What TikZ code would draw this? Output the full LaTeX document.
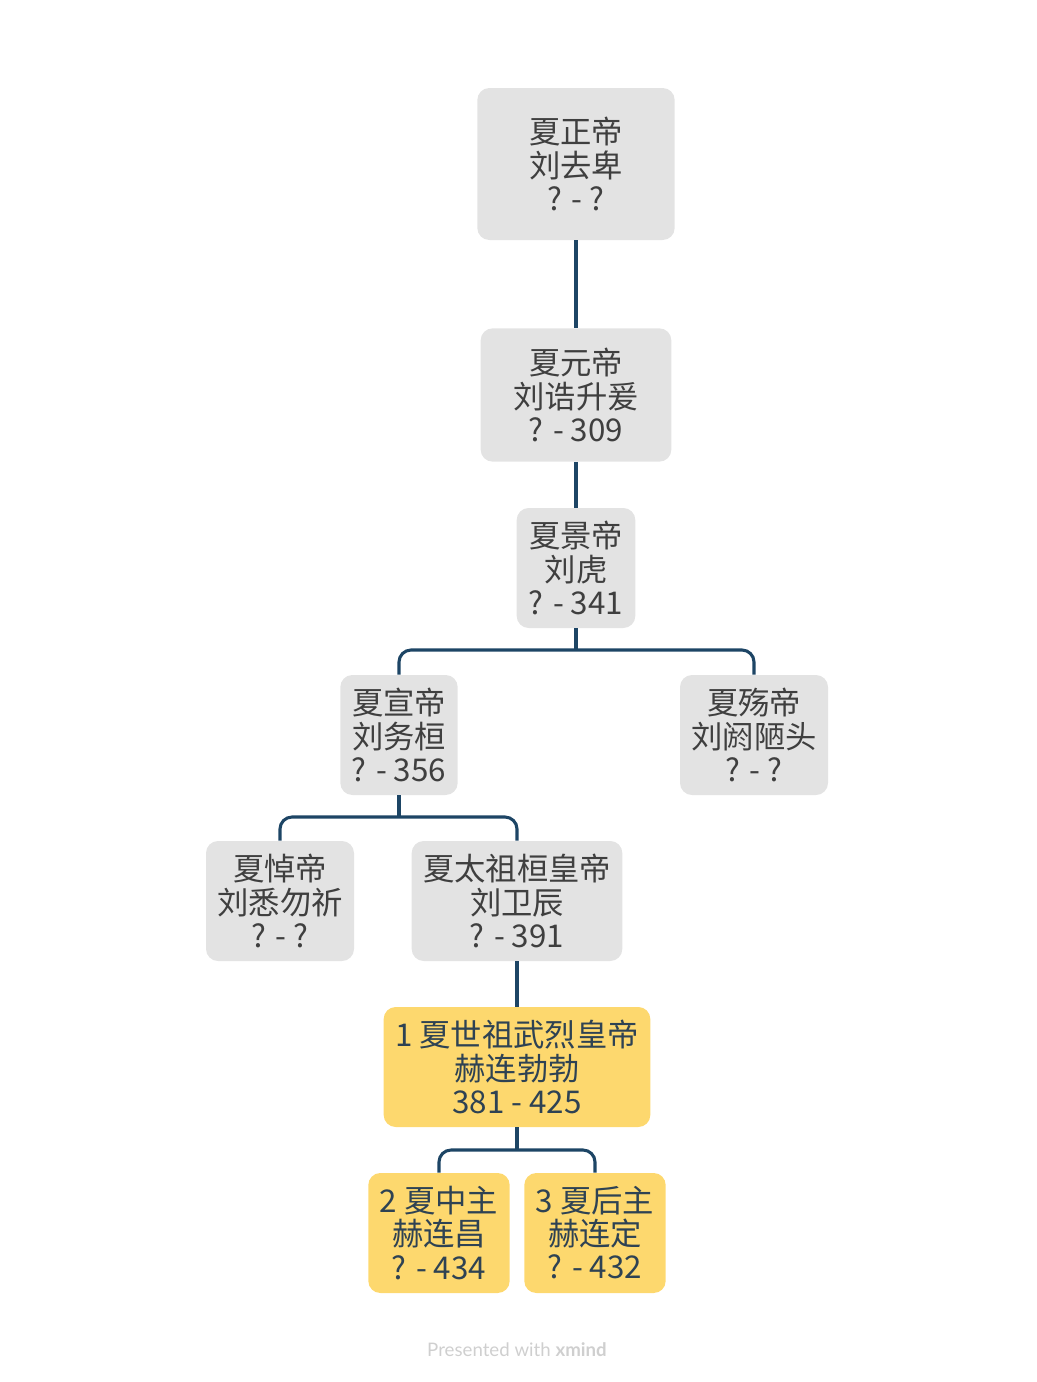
\documentclass[tikz,border=0pt]{standalone}
\usepackage{fontspec}
\newfontfamily\cjk{Noto Sans CJK SC}
\newfontfamily\footfont{Lato}
\usepackage{tikz}
\usetikzlibrary{positioning,calc}

\definecolor{boxgray}{HTML}{E3E3E3}
\definecolor{boxgold}{HTML}{FDD86E}
\definecolor{txtgray}{HTML}{3F3F3F}
\definecolor{txtblue}{HTML}{2E4253}
\definecolor{linknavy}{HTML}{1D4565}
\definecolor{footgray}{HTML}{CFCFCF}

\begin{document}
\begin{tikzpicture}[
    x=0.75pt, y=-0.75pt,
    ruler/.style={rectangle, rounded corners=9pt, fill=boxgray, text=txtgray, align=center, inner sep=2pt,
        font=\cjk\fontsize{23.5}{24.8}\selectfont, minimum height=90pt},
    xia/.style={ruler, fill=boxgold, text=txtblue},
    link/.style={draw=linknavy, line width=2.3pt},
    branch/.style={link, rounded corners=9pt}
]
\useasboundingbox (0,0) rectangle (1036,1382);

% Liu ancestors
\node at (576,164) [ruler, minimum width=148pt, minimum height=114pt] (zheng) {夏正帝\\刘去卑\\? - ?};
\node at (576,395) [ruler, minimum width=143pt, minimum height=100pt] (yuan) {夏元帝\\刘诰升爰\\? - 309};
\node at (576,568) [ruler, minimum width=89pt] (jing) {夏景帝\\刘虎\\? - 341};
\node at (399,735) [ruler, minimum width=88pt] (xuan) {夏宣帝\\刘务桓\\? - 356};
\node at (754,735) [ruler, minimum width=111pt] (shang) {夏殇帝\\刘阏陋头\\? - ?};
\node at (280,901) [ruler, minimum width=111pt] (dao) {夏悼帝\\刘悉勿祈\\? - ?};
\node at (517,901) [ruler, minimum width=158pt] (taizu) {夏太祖桓皇帝\\刘卫辰\\? - 391};

% Xia rulers
\node at (517,1067) [xia, minimum width=200pt] (shizu) {1 夏世祖武烈皇帝\\赫连勃勃\\381 - 425};
\node at (439,1233) [xia, minimum width=106pt] (zhong) {2 夏中主\\赫连昌\\? - 434};
\node at (595,1233) [xia, minimum width=106pt] (hou) {3 夏后主\\赫连定\\? - 432};

% Bus points
\coordinate (busjing) at (576,650);
\coordinate (busxuan) at (399,817);
\coordinate (busshizu) at (517,1150);

% Connectors
\draw [link] (zheng) -- (yuan);
\draw [link] (yuan) -- (jing);
\draw [link] (jing.south) -- (busjing);
\draw [branch] (xuan.north) |- (busjing) -| (shang.north);
\draw [link] (xuan.south) -- (busxuan);
\draw [branch] (dao.north) |- (busxuan) -| (taizu.north);
\draw [link] (taizu) -- (shizu);
\draw [link] (shizu.south) -- (busshizu);
\draw [branch] (zhong.north) |- (busshizu) -| (hou.north);

% Footer
\node at (517,1350) [text=footgray, font=\footfont\fontsize{14}{16}\selectfont] (footer) {Presented with \textbf{xmind}};

\end{tikzpicture}
\end{document}
